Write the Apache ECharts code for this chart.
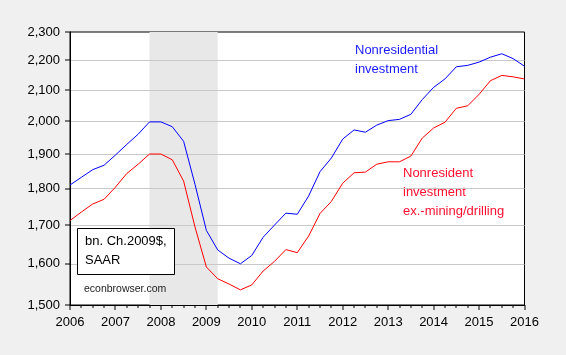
<!DOCTYPE html>
<html>
<head>
<meta charset="utf-8">
<script src="https://cdn.jsdelivr.net/npm/echarts@6/dist/echarts.min.js"></script>
<style>
html,body{margin:0;padding:0;background:#f0f0f0;}
#c{width:566px;height:355px;}
</style>
</head>
<body>
<div id="c"></div>
<script>
// Quarterly observations 2006Q1 .. 2016Q1
const startYear = 2006;
const nonresidential = [1810,1832,1854,1867,1897,1929,1960,1998,1998,1983,1938,1812,
  1686,1635,1614,1600,1621,1668,1700,1732,1729,1779,1848,1888,1945,1973,1966,1988,
  2002,2006,2022,2069,2109,2137,2178,2183,2194,2211,2223,2206,2180];
const exMining = [1712,1735,1757,1770,1804,1843,1870,1900,1900,1883,1821,1695,
  1592,1563,1550,1536,1548,1582,1606,1636,1628,1671,1731,1764,1815,1845,1847,1870,
  1877,1877,1894,1948,1979,1997,2041,2049,2086,2131,2149,2144,2137];
const yTicks = [1500,1600,1700,1800,1900,2000,2100,2200,2300];
const xTicks = [2006,2007,2008,2009,2010,2011,2012,2013,2014,2015,2016];
const gridValues = [1600,1700,1800,1900,2000,2100,2200];
const recession = [2007.75, 2009.25];

const toPts = arr => arr.map((v,i) => [startYear + i/4, v]);
const quarterTicks = [];
for (let i = 0; i < 40; i++) if (i % 4) quarterTicks.push(startYear + i/4);
const fmt = v => String(Math.round(v)).replace(/\B(?=(\d{3})+(?!\d))/g, ',');
const FONT = 'Liberation Sans, Arial, sans-serif';
const Y0 = yTicks[0], X0 = xTicks[0];

const chart = echarts.init(document.getElementById('c'), null, {renderer:'canvas'});
chart.setOption({
  animation: false,
  backgroundColor: '#f0f0f0',
  grid: {left:70, right:41.5, top:32, bottom:50, show:true, backgroundColor:'#fff',
         borderColor:'#000', borderWidth:1, containLabel:false, outerBoundsMode:'none'},
  xAxis: {
    type:'value', min:2006, max:2016, interval:1, z:2,
    axisLine:{show:true, onZero:false, lineStyle:{color:'#000', width:1}},
    axisTick:{show:false},
    minorTick:{show:false},
    splitLine:{show:false},
    axisLabel:{color:'#000', fontSize:13, fontFamily:FONT, margin:11, formatter: v => String(v)}
  },
  yAxis: {
    type:'log', logBase:10, min:1500, max:2300, z:2,
    axisLine:{show:true, lineStyle:{color:'#000', width:1}},
    axisTick:{show:false},
    splitLine:{show:false},
    minorTick:{show:false},
    axisLabel:{color:'#000', fontSize:13, fontFamily:FONT, margin:10, customValues: yTicks, formatter: fmt}
  },
  series: [
    {type:'line', name:'recession', data: [], z:1, symbol:'none',
     markArea:{silent:true, z:1, itemStyle:{color:'#e8e8e8'}, data:[[{xAxis:recession[0]},{xAxis:recession[1]}]]}},
    {type:'line', name:'grid', data: [], z:2, symbol:'none',
     markLine:{silent:true, z:2, symbol:['none','none'], label:{show:false},
       lineStyle:{color:'#c8c8c8', width:1, type:'solid'},
       data: gridValues.map(v => ({yAxis:v}))}},
    {type:'line', name:'Nonresidential investment', data: toPts(nonresidential), z:6,
     symbol:'none', lineStyle:{color:'#0000ff', width:1}, itemStyle:{color:'#0000ff'}},
    {type:'line', name:'ex mining', data: toPts(exMining), z:6,
     symbol:'none', lineStyle:{color:'#ff0000', width:1}, itemStyle:{color:'#ff0000'}}
  ],
  graphic: [
    {type:'text', left:355, top:41, style:{text:'Nonresidential\ninvestment', fill:'#1a1aff', font:'13px '+FONT, lineHeight:19}},
    {type:'text', left:403, top:164, style:{text:'Nonresident\ninvestment\nex.-mining/drilling', fill:'#ff1030', font:'13px '+FONT, lineHeight:19}},
    {type:'rect', shape:{x:77.5, y:228.5, width:97, height:46}, style:{fill:'#fff', stroke:'#000', lineWidth:1}, z:10},
    {type:'text', left:85, top:232, z:11, style:{text:'bn. Ch.2009$,\nSAAR', fill:'#000', font:'13px '+FONT, lineHeight:19}},
    {type:'text', left:84, top:284, z:11, style:{text:'econbrowser.com', fill:'#222', font:'10.5px '+FONT}}
  ]
});

// Axis tick marks, positioned through the chart's own scales
const tickEls = [];
const px = v => chart.convertToPixel({gridIndex:0}, v);
xTicks.forEach(v => {
  const p = px([v, Y0]);
  tickEls.push({type:'rect', z:20, shape:{x:Math.round(p[0]) - 0.5, y:Math.round(p[1]), width:1, height:5}, style:{fill:'#000'}});
});
quarterTicks.forEach(v => {
  const p = px([v, Y0]);
  tickEls.push({type:'rect', z:20, shape:{x:Math.round(p[0]) - 0.5, y:Math.round(p[1]), width:1, height:3}, style:{fill:'#000'}});
});
yTicks.forEach(v => {
  const p = px([X0, v]);
  tickEls.push({type:'rect', z:20, shape:{x:Math.round(p[0]) - 5, y:Math.round(p[1]) - 0.5, width:5, height:1}, style:{fill:'#000'}});
});
chart.setOption({graphic: tickEls.map((e, i) => Object.assign({id:'tick' + i}, e))});
</script>
</body>
</html>
